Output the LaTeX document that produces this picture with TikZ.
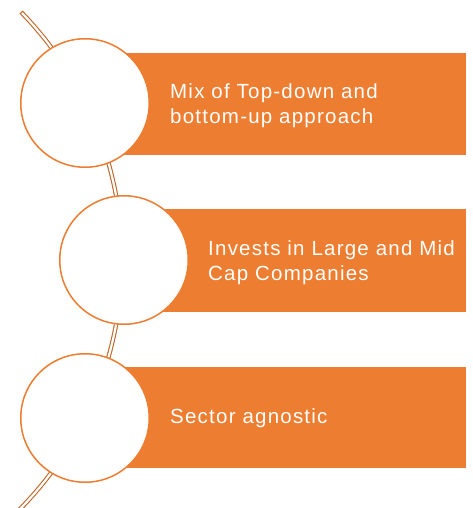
\documentclass[tikz,border=0pt]{standalone}
\usepackage{fontspec}
\setmainfont{Liberation Sans}
\newfontfamily\barfont[LetterSpace=6]{Liberation Sans}
\definecolor{accent}{HTML}{ED7D31}
\definecolor{railbrown}{HTML}{C0662A}
\tikzset{
  bar/.style={fill=accent, draw=none, inner sep=0pt, anchor=north west},
  disc/.style={circle, draw=accent, line width=1.5pt, fill=white, minimum size=128.5pt, inner sep=0pt},
  label/.style={anchor=west, text=white, align=left, inner sep=0pt,
    font=\barfont\fontsize{20.5}{25}\selectfont},
}
\begin{document}
\begin{tikzpicture}[x=1pt,y=1pt]
  \useasboundingbox (0,0) rectangle (472,-508);
  \begin{scope}
    \clip (0,0) rectangle (472,-508);
    % curved rail behind the circles: brown outline with a white core
    \coordinate (railc) at (-233,-260);
    \draw[railbrown, line width=4.4pt] ([shift={(44.3:355)}]railc) arc[start angle=44.3, end angle=-47, radius=355];
    \draw[white, line width=2.2pt] ([shift={(44.1:355)}]railc) arc[start angle=44.1, end angle=-47, radius=355];
  \end{scope}
  % orange bars
  \node[bar, minimum width=381pt, minimum height=102pt] (b1) at (85,-53) {};
  \node[bar, minimum width=342pt, minimum height=103pt] (b2) at (124,-209) {};
  \node[bar, minimum width=381pt, minimum height=101pt] (b3) at (85,-367) {};
  % white circles
  \node[disc] (c1) at (85,-103) {};
  \node[disc] (c2) at (124,-260) {};
  \node[disc] (c3) at (85,-418) {};
  % texts
  \node[label] (t1) at (170,-106) {Mix of Top-down and\\bottom-up approach};
  \node[label] (t2) at (208,-263) {Invests in Large and Mid\\Cap Companies};
  \node[label] (t3) at (170,-418) {Sector agnostic};
\end{tikzpicture}
\end{document}
